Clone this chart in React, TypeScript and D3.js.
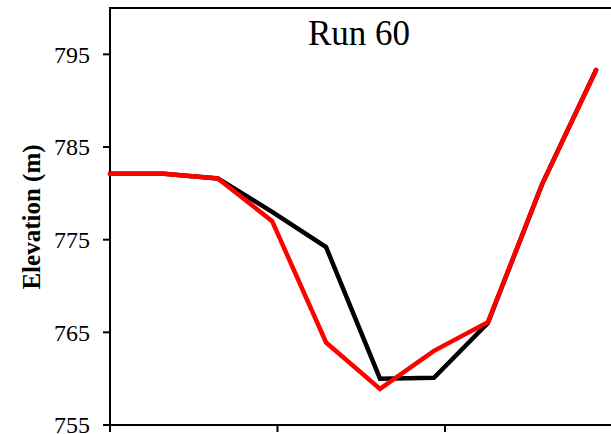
import React from "react";
import * as d3 from "d3";

const distance = [0, 16.1, 32.2, 48.4, 64.5, 80.6, 96.7, 112.8, 129.0, 145.1];
const observed = [782.1, 782.1, 781.6, 778.0, 774.2, 760.0, 760.1, 766.0, 781.0, 793.3];
const simulated = [782.1, 782.1, 781.6, 777.0, 763.9, 758.9, 763.0, 766.1, 781.0, 793.3];
const yTicks = [755, 765, 775, 785, 795];
const xTicks = [0, 50, 100, 150];
const title = "Run 60";
const yLabel = "Elevation (m)";

export default function App() {
  const W = 611, H = 434;
  const left = 110, right = 612.5, top = 8, bottom = 425;
  const x = d3.scaleLinear().domain([0, 150]).range([left, right]);
  const y = d3.scaleLinear().domain([755, 800]).range([bottom, top]);
  const line = d3.line<number>().x((_, i) => x(distance[i])).y((d) => y(d));
  const font = "'Liberation Serif', 'Times New Roman', serif";
  return (
    <svg width={W} height={H} style={{ position: "absolute", left: 0, top: 0, background: "#fff" }}>
      <rect width={W} height={H} fill="#fff" />
      <line x1={left} x2={W + 2} y1={top} y2={top} stroke="#000" strokeWidth={2} />
      <line x1={left} x2={left} y1={top - 1} y2={bottom + 1} stroke="#000" strokeWidth={2} />
      <line x1={left - 7} x2={W + 2} y1={bottom} y2={bottom} stroke="#000" strokeWidth={2} />
      {yTicks.map((t) => (
        <g key={t}>
          <line x1={left - 7} x2={left} y1={y(t)} y2={y(t)} stroke="#000" strokeWidth={2} />
          <text x={left - 20} y={y(t)} dy="0.35em" textAnchor="end" fontFamily={font} fontSize={24} fill="#000">
            {t}
          </text>
        </g>
      ))}
      {xTicks.map((t) => (
        <line key={t} x1={x(t)} x2={x(t)} y1={bottom} y2={bottom + 7} stroke="#000" strokeWidth={2} />
      ))}
      <path d={line(observed) || ""} fill="none" stroke="#000" strokeWidth={4.5} strokeLinecap="round" />
      <path d={line(simulated) || ""} fill="none" stroke="#ff0000" strokeWidth={4.5} strokeLinecap="round" />
      <text x={359} y={45} textAnchor="middle" fontFamily={font} fontSize={35} fill="#000">
        {title}
      </text>
      <text
        transform={`translate(40,217) rotate(-90)`}
        textAnchor="middle"
        fontFamily={font}
        fontWeight="bold"
        fontSize={25}
        fill="#000"
      >
        {yLabel}
      </text>
    </svg>
  );
}
